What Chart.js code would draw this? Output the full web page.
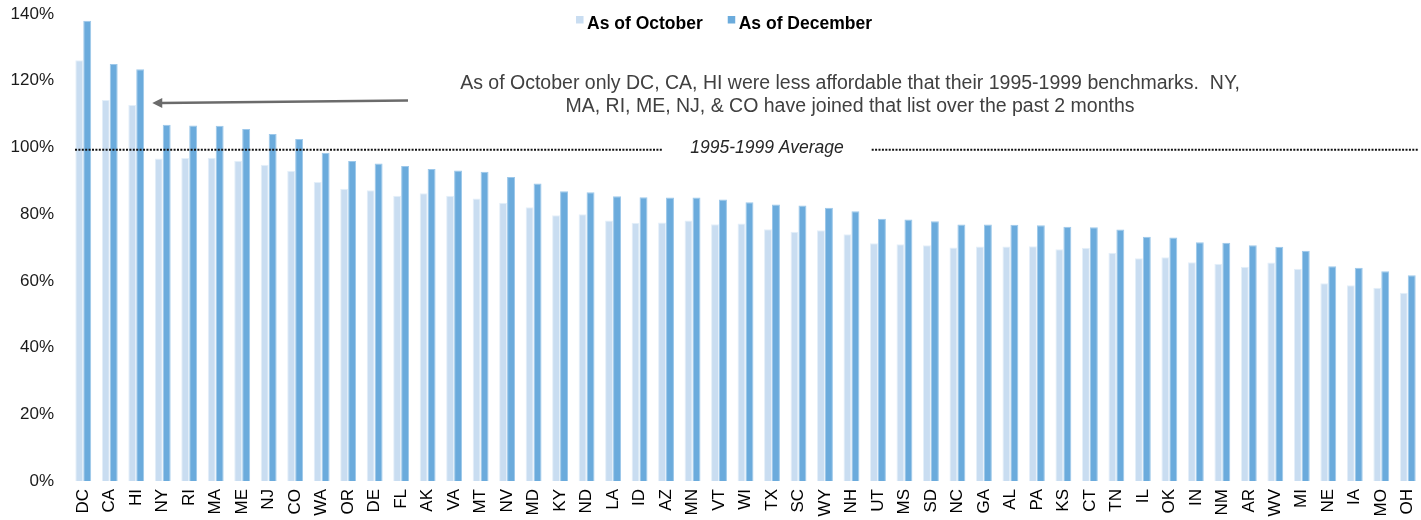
<!DOCTYPE html>
<html>
<head>
<meta charset="utf-8">
<script src="https://cdn.jsdelivr.net/npm/chart.js@4"></script>
<style>
  html, body { margin: 0; padding: 0; background: #fff; }
  #wrap { width: 1421px; height: 520px; }
</style>
</head>
<body>
<div id="wrap"><canvas id="myChart" width="1421" height="520"></canvas></div>
<script>
// states, sorted by December value
var states = ['DC','CA','HI','NY','RI','MA','ME','NJ','CO','WA','OR','DE','FL','AK','VA','MT','NV','MD','KY','ND',
  'LA','ID','AZ','MN','VT','WI','TX','SC','WY','NH','UT','MS','SD','NC','GA','AL','PA','KS','CT','TN',
  'IL','OK','IN','NM','AR','WV','MI','NE','IA','MO','OH'];

var asOfOctober = [126.1,114.2,112.7,96.7,96.8,96.9,96.0,94.8,93.0,89.6,87.6,87.2,85.5,86.3,85.5,84.7,83.4,82.1,79.7,80.0,
  78.1,77.4,77.5,78.1,77.0,77.2,75.5,74.7,75.2,74.0,71.3,71.0,70.7,70.0,70.3,70.3,70.4,69.5,69.9,68.4,
  66.8,67.1,65.6,65.1,64.2,65.5,63.6,59.3,58.7,57.9,56.4];

var asOfDecember = [138.0,125.0,123.4,106.8,106.6,106.5,105.5,104.0,102.5,98.4,95.9,95.2,94.4,93.5,93.1,92.7,91.1,89.2,86.9,86.6,
  85.4,85.1,85.0,85.0,84.4,83.6,82.9,82.6,81.9,80.9,78.6,78.4,77.9,76.9,76.9,76.8,76.7,76.2,76.1,75.4,
  73.2,73.0,71.6,71.4,70.7,70.2,69.0,64.4,63.9,62.9,61.7];

var yTicks = [0, 20, 40, 60, 80, 100, 120, 140];
var benchmark = 99.3; // 1995-1999 average
var benchmarkLabel = '1995-1999 Average';
var noteLines = [
  'As of October only DC, CA, HI were less affordable that their 1995-1999 benchmarks.  NY,',
  'MA, RI, ME, NJ, & CO have joined that list over the past 2 months'
];

var FONT = "'Liberation Sans', Arial, sans-serif";

// draws legend, benchmark line, note and arrow
var extras = {
  id: 'extras',
  afterDraw: function (chart) {
    var ctx = chart.ctx;
    var area = chart.chartArea;
    var x = chart.scales.x;
    var y = chart.scales.y;
    ctx.save();

    // legend
    ctx.font = 'bold 17.5px ' + FONT;
    ctx.textBaseline = 'alphabetic';
    ctx.textAlign = 'left';
    var items = chart.data.datasets.map(function (ds) {
      return { text: ds.label, color: ds.backgroundColor, w: ctx.measureText(ds.label).width };
    });
    var total = 0;
    items.forEach(function (it, i) { total += 11 + it.w + (i ? 25 : 0); });
    var lx = 724 - total / 2;
    items.forEach(function (it) {
      ctx.fillStyle = it.color;
      ctx.fillRect(lx, 16, 7.5, 7.5);
      ctx.fillStyle = '#000';
      ctx.fillText(it.text, lx + 11, 28.5);
      lx += 11 + it.w + 25;
    });

    // benchmark dotted line with label
    var by = y.getPixelForValue(benchmark);
    ctx.font = 'italic 17.5px ' + FONT;
    ctx.textAlign = 'center';
    ctx.textBaseline = 'middle';
    ctx.fillStyle = '#262626';
    var labelX = 767;
    var lw = ctx.measureText(benchmarkLabel).width;
    ctx.fillText(benchmarkLabel, labelX, by - 2);
    ctx.strokeStyle = '#111';
    ctx.lineWidth = 2;
    ctx.setLineDash([2, 1.4]);
    ctx.beginPath();
    ctx.moveTo(area.left + 5, by);
    ctx.lineTo(labelX - lw / 2 - 28, by);
    ctx.moveTo(labelX + lw / 2 + 28, by);
    ctx.lineTo(area.right - 3, by);
    ctx.stroke();
    ctx.setLineDash([]);

    // note text
    ctx.font = '19.5px ' + FONT;
    ctx.fillStyle = '#404040';
    ctx.textAlign = 'center';
    ctx.textBaseline = 'middle';
    ctx.fillText(noteLines[0], 850, 84);
    ctx.fillText(noteLines[1], 850, 107);

    // arrow pointing at HI
    var tipX = x.getPixelForValue(2) + 16;
    var tipY = y.getPixelForValue(113.3);
    var tailX = 408;
    var tailY = y.getPixelForValue(114.1);
    ctx.strokeStyle = '#6b6b6b';
    ctx.fillStyle = '#6b6b6b';
    ctx.lineWidth = 2.5;
    ctx.beginPath();
    ctx.moveTo(tailX, tailY);
    ctx.lineTo(tipX + 8, tipY);
    ctx.stroke();
    ctx.beginPath();
    ctx.moveTo(tipX, tipY);
    ctx.lineTo(tipX + 10, tipY - 5);
    ctx.lineTo(tipX + 10, tipY + 5);
    ctx.closePath();
    ctx.fill();

    ctx.restore();
  }
};

var ctx = document.getElementById('myChart').getContext('2d');
var myChart = new Chart(ctx, {
  type: 'bar',
  data: {
    labels: states,
    datasets: [{
      label: 'As of October',
      data: asOfOctober,
      backgroundColor: '#c9ddf1',
      borderColor: '#e4eff9',
      borderWidth: 1,
      categoryPercentage: 0.6,
      barPercentage: 1.0
    }, {
      label: 'As of December',
      data: asOfDecember,
      backgroundColor: '#6babdc',
      borderColor: '#9dc8ea',
      borderWidth: 1,
      categoryPercentage: 0.6,
      barPercentage: 1.0
    }]
  },
  options: {
    responsive: false,
    animation: false,
    layout: { padding: { left: 10, right: 0, top: 14, bottom: 0 } },
    plugins: {
      legend: { display: false },
      tooltip: { enabled: false }
    },
    scales: {
      x: {
        grid: { display: false, drawTicks: false },
        border: { display: false },
        afterFit: function (axis) {
          axis.height = 39;
          axis.paddingLeft = 0;
          axis.paddingRight = 0;
        },
        ticks: {
          autoSkip: false,
          minRotation: 90,
          maxRotation: 90,
          padding: 8,
          color: '#000',
          font: { family: FONT, size: 17 }
        }
      },
      y: {
        min: 0,
        max: 140,
        afterBuildTicks: function (axis) {
          axis.ticks = yTicks.map(function (v) { return { value: v }; });
        },
        afterFit: function (axis) {
          axis.width = 60;
          axis.paddingTop = 0;
          axis.paddingBottom = 0;
        },
        grid: { display: false, drawTicks: false },
        border: { display: false },
        ticks: {
          padding: 16,
          color: '#1a1a1a',
          font: { family: FONT, size: 17 },
          callback: function (v) { return v + '%'; }
        }
      }
    }
  },
  plugins: [extras]
});
</script>
</body>
</html>
